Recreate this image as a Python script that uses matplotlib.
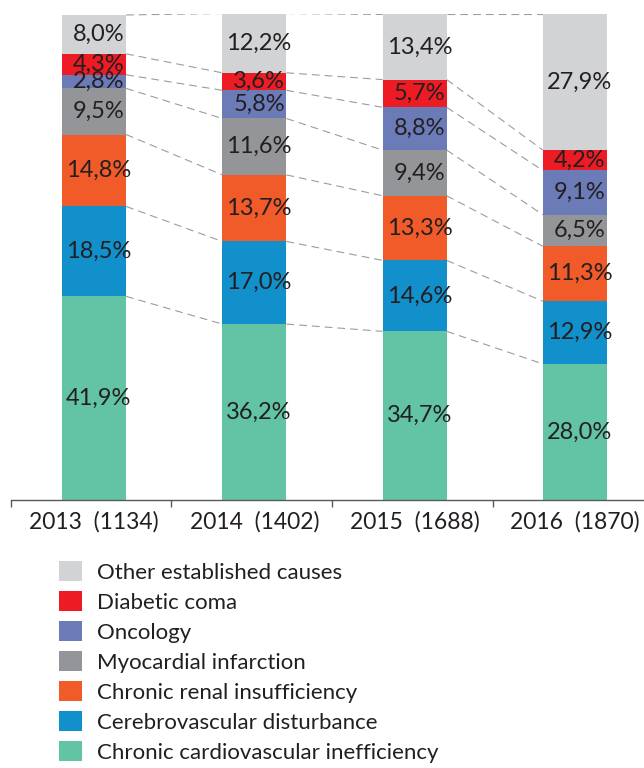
import matplotlib
matplotlib.use("Agg")
import matplotlib.pyplot as plt
import numpy as np
from matplotlib.patches import Patch

plt.rcParams['font.family'] = ['Lato', 'DejaVu Sans']

categories = ["2013  (1134)", "2014  (1402)", "2015  (1688)", "2016  (1870)"]
series_names = [
    "Chronic cardiovascular inefficiency",
    "Cerebrovascular disturbance",
    "Chronic renal insufficiency",
    "Myocardial infarction",
    "Oncology",
    "Diabetic coma",
    "Other established causes",
]
cardio = [41.9, 36.2, 34.7, 28.0]
cerebro = [18.5, 17.0, 14.6, 12.9]
renal = [14.8, 13.7, 13.3, 11.3]
myocardial = [9.5, 11.6, 9.4, 6.5]
oncology = [2.8, 5.8, 8.8, 9.1]
diabetic = [4.3, 3.6, 5.7, 4.2]
other = [8.0, 12.2, 13.4, 27.9]
series = [cardio, cerebro, renal, myocardial, oncology, diabetic, other]
colors = ["#63c4a5", "#1190cb", "#f15a29", "#939598", "#6a7bb8", "#ed1c24", "#d1d3d4"]

textc = "#231f20"
fig = plt.figure(figsize=(6.44, 7.68), dpi=100)
ax = fig.add_axes([11/644, 268/768, 633/644, 486/768])

x = np.arange(len(categories))
bw = 0.40
bottom = np.zeros(len(categories))
tops = []
for vals, col in zip(series, colors):
    v = np.array(vals)
    ax.bar(x, v, bw, bottom=bottom, color=col, zorder=2, linewidth=0)
    for xi, b, h in zip(x, bottom, v):
        ax.text(xi + 0.03, b + h / 2, f"{h:.1f}".replace(".", ",") + "%",
                ha="center", va="center", fontsize=17, color=textc, zorder=3)
    bottom = bottom + v
    tops.append(bottom.copy())

# dashed connectors between consecutive bars at each boundary
for t in tops:
    for i in range(len(categories) - 1):
        ax.plot([x[i] + bw / 2, x[i + 1] - bw / 2], [t[i], t[i + 1]],
                color="#9a9c9f", lw=0.8, ls=(0, (7, 4.5)), zorder=1)

ax.set_xlim(-0.518, 3.431)
ax.set_ylim(0, 100)
for s in ["left", "right", "top"]:
    ax.spines[s].set_visible(False)
ax.spines["bottom"].set_color("#58595b")
ax.spines["bottom"].set_linewidth(1.0)
ax.set_yticks([])
ax.set_xticks(x)
ax.set_xticklabels(categories, fontsize=16.5, color=textc)
ax.tick_params(axis="x", which="major", length=0, pad=8)
ax.set_xticks([-0.518, 0.48, 1.485, 2.49], minor=True)
ax.tick_params(axis="x", which="minor", length=5, width=1.0, color="#58595b", direction="out")

handles = [Patch(facecolor=c, edgecolor="none") for c in colors][::-1]
labels = series_names[::-1]
leg = fig.legend(handles, labels, loc="upper left", bbox_to_anchor=(59/644, 1 - 561/768),
                 frameon=False, fontsize=16, handlelength=1.04, handleheight=1.0,
                 handletextpad=0.68, labelspacing=0.38, borderaxespad=0, borderpad=0)
for t in leg.get_texts():
    t.set_color(textc)

fig.savefig("out.png", dpi=100)
